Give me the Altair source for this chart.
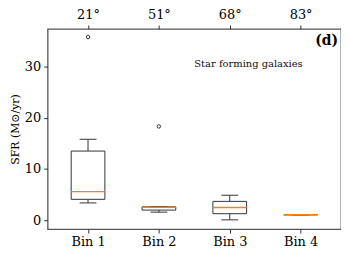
import json
import altair as alt
import pandas as pd

bins = [1, 2, 3, 4]
bin_labels = ["Bin 1", "Bin 2", "Bin 3", "Bin 4"]
angle_labels = ["21°", "51°", "68°", "83°"]
whisker_low = [3.4, 1.6, 0.1, 1.1]
q1 = [4.1, 2.0, 1.3, 1.1]
median = [5.6, 2.55, 2.5, 1.1]
q3 = [13.5, 2.65, 3.7, 1.1]
whisker_high = [15.8, 2.7, 4.9, 1.1]
outlier_bin = [1, 2]
outlier_val = [35.7, 18.3]

box = pd.DataFrame({
    "bin": bins, "lo": whisker_low, "q1": q1, "med": median,
    "q3": q3, "hi": whisker_high,
})
out = pd.DataFrame({"bin": outlier_bin, "val": outlier_val})

FONT = "DejaVu Serif"
xscale = alt.Scale(domain=[0.5, 4.5], nice=False, zero=False)
yscale = alt.Scale(domain=[-1.7, 37.3], nice=False, zero=False)

bottom_label = json.dumps(bin_labels) + "[datum.value-1]"
top_label = json.dumps(angle_labels) + "[datum.value-1]"

x_bottom = alt.X("bin:Q", scale=xscale, axis=alt.Axis(
    values=bins, labelExpr=bottom_label, title=None, grid=False,
    orient="bottom", domain=False, tickColor="#333", tickSize=4,
    labelFont=FONT, labelFontSize=13, labelColor="#000", labelPadding=3))
x_top = alt.X("bin:Q", scale=xscale, axis=alt.Axis(
    values=bins, labelExpr=top_label, title=None, grid=False,
    orient="top", domain=False, tickColor="#333", tickSize=4,
    labelFont=FONT, labelFontSize=13, labelColor="#000", labelPadding=3))
y_axis = alt.Axis(
    values=[0, 10, 20, 30], title="SFR (M\u2299/yr)", grid=False,
    domain=False, tickColor="#333", tickSize=4,
    labelFont=FONT, labelFontSize=13, labelColor="#000", labelPadding=3,
    titleFont=FONT, titleFontSize=11, titleFontWeight="normal",
    titleColor="#000", titlePadding=4)


def Y(field):
    return alt.Y(field, scale=yscale, axis=y_axis)


base = alt.Chart(box)

whisk_lo = base.mark_rule(color="#333", strokeWidth=1).encode(
    x=x_bottom, y=Y("lo:Q"), y2="q1:Q")
whisk_hi = base.mark_rule(color="#333", strokeWidth=1).encode(
    x=x_top, y=Y("q3:Q"), y2="hi:Q")
boxes = base.mark_bar(size=34, fill="white", stroke="#333", strokeWidth=1).encode(
    x=alt.X("bin:Q", scale=xscale, axis=None),
    y=Y("q1:Q"), y2="q3:Q")
cap_lo = base.mark_tick(size=17, thickness=1, color="#333", opacity=1,
                        orient="horizontal").encode(
    x=alt.X("bin:Q", scale=xscale, axis=None), y=Y("lo:Q"))
cap_hi = base.mark_tick(size=17, thickness=1, color="#333", opacity=1,
                        orient="horizontal").encode(
    x=alt.X("bin:Q", scale=xscale, axis=None), y=Y("hi:Q"))
med = base.mark_tick(size=34, thickness=1.4, color="#ff7f0e", opacity=1,
                     orient="horizontal").encode(
    x=alt.X("bin:Q", scale=xscale, axis=None), y=Y("med:Q"))
pts = alt.Chart(out).mark_point(shape="circle", size=12, filled=False, opacity=1,
                                color="#222", strokeWidth=0.9).encode(
    x=alt.X("bin:Q", scale=xscale, axis=None), y=Y("val:Q"))

label_d = alt.Chart(pd.DataFrame({"t": ["(d)"]})).mark_text(
    font=FONT, fontSize=14, fontWeight="bold", align="right", baseline="alphabetic",
    color="#000").encode(x=alt.value(293), y=alt.value(16), text="t:N")
label_sf = alt.Chart(pd.DataFrame({"t": ["Star forming galaxies"]})).mark_text(
    font=FONT, fontSize=10, align="left", baseline="middle",
    color="#111").encode(x=alt.value(148), y=alt.value(35), text="t:N")

chart = alt.layer(
    whisk_lo, whisk_hi, boxes, cap_lo, cap_hi, med, pts, label_d, label_sf
).resolve_axis(x="independent").properties(
    width=296, height=202,
    background="white",
    autosize=alt.AutoSizeParams(type="none"),
    padding={"left": 40, "top": 20, "right": 0, "bottom": 20},
).configure_view(stroke="#555555", strokeWidth=1.3)

chart.save("out.html", embed_options={"renderer": "svg", "actions": False})
